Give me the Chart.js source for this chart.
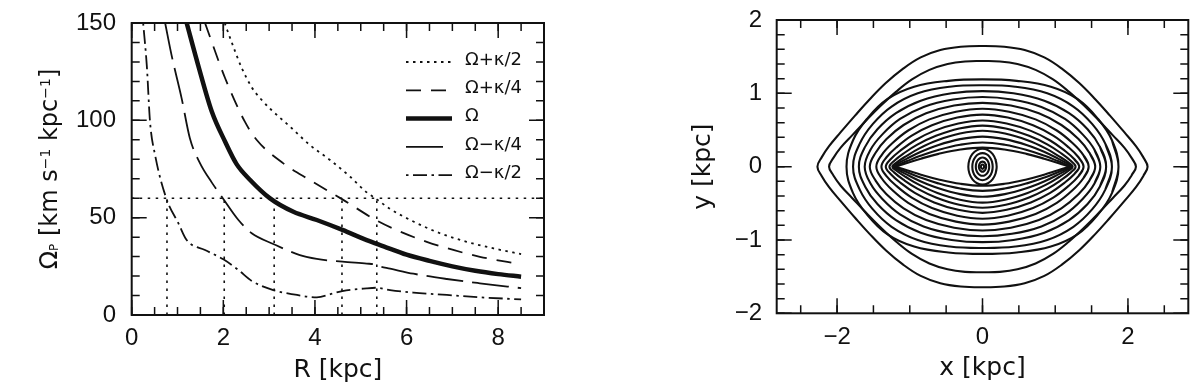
<!DOCTYPE html>
<html>
<head>
<meta charset="utf-8">
<script src="https://cdn.jsdelivr.net/npm/chart.js@4.4.1/dist/chart.umd.min.js"></script>
<style>
  html, body { margin: 0; padding: 0; background: #fff; }
  #wrap { position: relative; width: 1200px; height: 390px; }
  canvas { position: absolute; top: 0; }
  #freq { left: 0; }
  #orbits { left: 600px; }
</style>
</head>
<body>
<div id="wrap">
  <canvas id="freq" width="600" height="390"></canvas>
  <canvas id="orbits" width="600" height="390"></canvas>
</div>
<script>
// --- left panel: frequency curves, R in kpc, values in km s^-1 kpc^-1
const rPlusHalf = [2.03, 2.2, 2.4, 2.62, 2.8, 3.02, 3.46, 3.89, 4.33, 4.77, 5.13, 5.35, 5.64, 6.15, 6.73, 7.31, 7.9, 8.5];
const plusHalf  = [150, 139, 127, 117, 111.5, 106, 96.7, 87.3, 79.6, 71, 63, 59.4, 54.5, 48, 42, 37.6, 34.2, 31.3];

const rPlusQuarter = [1.6, 2.04, 2.47, 2.73, 3.31, 3.89, 4.6, 5.35, 5.86, 6.44, 7.02, 7.6, 8.5];
const plusQuarter  = [150, 121.6, 99.3, 89.9, 77.9, 69.3, 59.4, 48.5, 42.8, 37.6, 33.4, 29.9, 26];

const rOmega = [1.2, 1.45, 1.75, 2.04, 2.29, 2.58, 3.02, 3.53, 4.04, 4.6, 5.13, 5.5, 6.0, 6.5, 7.0, 7.5, 8.0, 8.5];
const omega  = [150, 128.4, 104.4, 89, 77.5, 69.5, 59.9, 53, 48.8, 43.7, 38.5, 35.3, 31, 27.8, 25, 22.7, 21, 19.7];

const rMinusQuarter = [0.73, 0.87, 1.09, 1.27, 1.49, 1.75, 2.0, 2.33, 2.62, 3.09, 3.67, 4.04, 4.6, 5.13, 5.3, 5.4, 5.64, 6.15, 6.88, 7.6, 8.5];
const minusQuarter  = [150, 133.5, 111.3, 90.8, 78, 68, 59.6, 48.8, 42, 36.5, 30.8, 28.8, 27.4, 26.4, 26.0, 25.0, 23.8, 21.2, 18.5, 16.3, 13.8];

const rMinusHalf = [0.25, 0.33, 0.4, 0.51, 0.76, 1.02, 1.2, 1.6, 2.0, 2.33, 2.62, 3.09, 3.53, 4.04, 4.4, 4.6, 5.13, 5.35, 5.64, 6.15, 6.88, 7.6, 8.5];
const minusHalf  = [150, 128, 99.3, 82.2, 59.6, 47.1, 38.5, 33.4, 28.6, 23.1, 17.5, 12.8, 10.6, 9.1, 11.1, 12.3, 13.7, 14, 12.8, 11.5, 10.3, 9.1, 8.0];

const patternSpeed = 60;
const crossR = [0.77, 2.02, 3.11, 4.59, 5.35];

const rTicks = [0, 2, 4, 6, 8];
const omegaTicks = [0, 50, 100, 150];

// --- right panel: orbits, upper-right quarter of each (x, y in kpc), from (xmax,0) to (0,ymax)
const outerOrbits = [
  [[2.27, 0], [2.21, 0.13], [2.11, 0.28], [1.95, 0.47], [1.75, 0.70], [1.55, 0.92], [1.33, 1.14], [1.10, 1.33], [0.85, 1.49], [0.58, 1.59], [0.3, 1.635], [0, 1.645]],
  [[2.11, 0], [2.05, 0.12], [1.95, 0.26], [1.79, 0.43], [1.60, 0.63], [1.40, 0.83], [1.19, 1.02], [0.97, 1.19], [0.73, 1.32], [0.48, 1.40], [0.24, 1.435], [0, 1.44]]
];
const eyeOrbits = [
  [[1.87, 0], [1.78, 0.36], [1.59, 0.65], [1.31, 0.92], [0.94, 1.09], [0.47, 1.17], [0, 1.19]],
  [[1.78, 0], [1.69, 0.31], [1.51, 0.58], [1.25, 0.82], [0.89, 1.00], [0.45, 1.09], [0, 1.11]],
  [[1.70, 0], [1.615, 0.27], [1.445, 0.51], [1.19, 0.73], [0.85, 0.90], [0.425, 1.00], [0, 1.03]],
  [[1.62, 0], [1.54, 0.23], [1.377, 0.44], [1.134, 0.65], [0.81, 0.815], [0.405, 0.916], [0, 0.95]],
  [[1.55, 0], [1.47, 0.19], [1.32, 0.377], [1.085, 0.568], [0.775, 0.728], [0.39, 0.833], [0, 0.87]],
  [[1.46, 0], [1.387, 0.158], [1.241, 0.319], [1.022, 0.493], [0.73, 0.645], [0.365, 0.75], [0, 0.79]],
  [[1.39, 0], [1.32, 0.128], [1.18, 0.266], [0.973, 0.422], [0.695, 0.564], [0.3475, 0.669], [0, 0.71]],
  [[1.33, 0], [1.264, 0.10], [1.13, 0.218], [0.931, 0.357], [0.665, 0.488], [0.3325, 0.589], [0, 0.63]],
  [[1.28, 0], [1.216, 0.078], [1.088, 0.178], [0.896, 0.30], [0.64, 0.42], [0.32, 0.52], [0, 0.56]],
  [[1.24, 0], [1.178, 0.059], [1.054, 0.141], [0.868, 0.249], [0.62, 0.359], [0.31, 0.451], [0, 0.49]],
  [[1.23, 0], [1.1685, 0.041], [1.0455, 0.106], [0.861, 0.196], [0.615, 0.292], [0.3075, 0.375], [0, 0.41]],
  [[1.22, 0], [1.159, 0.026], [1.037, 0.076], [0.854, 0.148], [0.61, 0.228], [0.305, 0.299], [0, 0.33]],
  [[1.21, 0], [1.1495, 0.016], [1.0285, 0.052], [0.847, 0.109], [0.605, 0.174], [0.3025, 0.234], [0, 0.26]]
];
const coreOrbits = [
  [[0.195, 0], [0.18, 0.094], [0.138, 0.173], [0.075, 0.226], [0, 0.245]],
  [[0.14, 0], [0.13, 0.071], [0.099, 0.131], [0.054, 0.171], [0, 0.185]],
  [[0.092, 0], [0.085, 0.048], [0.065, 0.088], [0.035, 0.115], [0, 0.125]],
  [[0.05, 0], [0.046, 0.026], [0.035, 0.048], [0.019, 0.063], [0, 0.068]],
  [[0.022, 0], [0.016, 0.021], [0, 0.03]]
];

const xTicks = [-2, 0, 2];
const yTicks = [-2, -1, 0, 1, 2];

// ---------------------------------------------------------------
const INK = '#111';
const tickFont = { family: "'Liberation Sans', Arial, sans-serif", size: 24 };
const titleFont = { family: "'DejaVu Sans', sans-serif", size: 25 };

const toPoints = (xs, ys) => xs.map((x, i) => ({ x: x, y: ys[i] }));

// whole closed orbit from its quarter, mirrored in both axes
function loopPoints(q) {
  const pts = [];
  q.forEach(([x, y]) => pts.push({ x: x, y: y }));
  q.slice(0, -1).reverse().forEach(([x, y]) => pts.push({ x: -x, y: y }));
  q.slice(1).forEach(([x, y]) => pts.push({ x: -x, y: -y }));
  q.slice(0, -1).reverse().forEach(([x, y]) => pts.push({ x: x, y: -y }));
  const n = pts.length;
  return [pts[n - 2], ...pts, pts[1]];
}

// inward tick marks on all four sides plus the frame
const frameTicks = {
  id: 'frameTicks',
  afterDatasetsDraw(chart, args, opts) {
    const { ctx, chartArea: a, scales: { x, y } } = chart;
    const minors = (scale, step) => {
      const out = [];
      const n0 = Math.ceil(scale.min / step - 1e-6), n1 = Math.floor(scale.max / step + 1e-6);
      for (let n = n0; n <= n1; n++) out.push(n * step);
      return out;
    };
    const mark = (scale, values, len) => {
      values.forEach(v => {
        const p = scale.getPixelForValue(v);
        ctx.beginPath();
        if (scale.isHorizontal()) {
          ctx.moveTo(p, a.bottom); ctx.lineTo(p, a.bottom - len);
          ctx.moveTo(p, a.top); ctx.lineTo(p, a.top + len);
        } else {
          ctx.moveTo(a.left, p); ctx.lineTo(a.left + len, p);
          ctx.moveTo(a.right, p); ctx.lineTo(a.right - len, p);
        }
        ctx.stroke();
      });
    };
    ctx.save();
    ctx.strokeStyle = INK;
    ctx.lineWidth = 1.5;
    mark(x, minors(x, opts.xMinor), 8);
    mark(x, opts.xMajor, 15);
    mark(y, minors(y, opts.yMinor), 8);
    mark(y, opts.yMajor, 15);
    ctx.lineWidth = 2;
    ctx.strokeRect(a.left, a.top, a.right - a.left, a.bottom - a.top);
    ctx.restore();
  }
};

// legend inside the plot, using each dataset's own line style
const curveKey = {
  id: 'curveKey',
  afterDraw(chart) {
    const { ctx } = chart;
    ctx.save();
    ctx.fillStyle = INK;
    ctx.strokeStyle = INK;
    ctx.font = "18px 'DejaVu Sans', sans-serif";
    ctx.textBaseline = 'middle';
    let row = 0;
    chart.data.datasets.forEach(ds => {
      if (!ds.label) return;
      const yy = 62 + row * 28.3;
      ctx.setLineDash(ds.borderDash || []);
      ctx.lineWidth = ds.borderWidth;
      ctx.beginPath();
      ctx.moveTo(406, yy);
      ctx.lineTo(452, yy);
      ctx.stroke();
      ctx.setLineDash([]);
      ctx.fillText(ds.label, 465, yy - 2);
      row++;
    });
    ctx.restore();
  }
};

// y title with subscript and superscripts
const omegaTitle = {
  id: 'omegaTitle',
  afterDraw(chart) {
    const { ctx, chartArea: a } = chart;
    const big = "24px 'DejaVu Sans', sans-serif";
    const sub = "12px 'DejaVu Sans', sans-serif";
    const sup = "14px 'DejaVu Sans', sans-serif";
    const parts = [['Ω', big, 0], ['P', sub, 1], [' [km s', big, 0], ['−1', sup, -7.5],
                   [' kpc', big, 0], ['−1', sup, -7.5], [']', big, 0]];
    ctx.save();
    ctx.translate(48, (a.top + a.bottom) / 2);
    ctx.rotate(-Math.PI / 2);
    ctx.fillStyle = INK;
    ctx.textBaseline = 'alphabetic';
    let w = 0;
    parts.forEach(p => { ctx.font = p[1]; w += ctx.measureText(p[0]).width; });
    let x = -w / 2;
    parts.forEach(([t, f, dy]) => {
      ctx.font = f;
      ctx.fillText(t, x, 9 + dy);
      x += ctx.measureText(t).width;
    });
    ctx.restore();
  }
};

const minusSign = v => String(v).replace('-', '−');

function axis(min, max, labels, size, pad, horizontal) {
  return {
    type: 'linear', min: min, max: max,
    grid: { display: false, drawTicks: false },
    border: { display: false },
    afterBuildTicks: s => { s.ticks = labels.map(v => ({ value: v })); },
    afterFit: s => {
      if (horizontal) s.height = size; else s.width = size;
      // layout padding alone places the plot box
      s.paddingTop = s.paddingBottom = s.paddingLeft = s.paddingRight = 0;
    },
    ticks: { font: tickFont, color: INK, padding: pad, maxRotation: 0, autoSkip: false, callback: minusSign }
  };
}

// ---- left chart
const line = (xs, ys, label, width, dash) => ({
  label: label, data: toPoints(xs, ys), showLine: true, pointRadius: 0,
  borderColor: INK, borderWidth: width, borderDash: dash, cubicInterpolationMode: 'monotone'
});

const refLines = [{ label: '', data: [{ x: 0, y: patternSpeed }, { x: 9, y: patternSpeed }] }]
  .concat(crossR.map(r => ({ label: '', data: [{ x: r, y: 0 }, { x: r, y: patternSpeed }] })))
  .map(d => Object.assign(d, { showLine: true, pointRadius: 0, borderColor: INK, borderWidth: 1.6, borderDash: [2.5, 5.5] }));

const xFreq = axis(0, 9, rTicks, 75, 8.6, true);
xFreq.title = { display: true, text: 'R [kpc]', font: titleFont, color: INK, padding: { top: 0, bottom: 5 } };
const yFreq = axis(0, 150, omegaTicks, 131.7, 15.7, false);

new Chart(document.getElementById('freq'), {
  type: 'scatter',
  data: {
    datasets: [
      line(rPlusHalf, plusHalf, 'Ω+κ/2', 1.8, [2.5, 4.5]),
      line(rPlusQuarter, plusQuarter, 'Ω+κ/4', 1.8, [15, 10]),
      line(rOmega, omega, 'Ω', 4.5, []),
      line(rMinusQuarter, minusQuarter, 'Ω−κ/4', 1.8, [37, 9]),
      line(rMinusHalf, minusHalf, 'Ω−κ/2', 1.8, [2.5, 4.5, 14, 4.5])
    ].concat(refLines)
  },
  options: {
    responsive: false, animation: false, devicePixelRatio: 1,
    layout: { padding: { left: 0, right: 56, top: 23, bottom: 0 } },
    plugins: {
      legend: { display: false }, tooltip: { enabled: false },
      frameTicks: { xMajor: rTicks, xMinor: 0.5, yMajor: omegaTicks, yMinor: 10 }
    },
    scales: { x: xFreq, y: yFreq }
  },
  plugins: [frameTicks, curveKey, omegaTitle]
});

// ---- right chart
const orbit = q => ({
  data: loopPoints(q), showLine: true, pointRadius: 0,
  borderColor: INK, borderWidth: 2.1, tension: 0.4
});

const xOrb = axis(-2.83, 2.83, xTicks, 76.7, 9.3, true);
xOrb.title = { display: true, text: 'x [kpc]', font: titleFont, color: INK, padding: { top: 0, bottom: 7 } };
const yOrb = axis(-2, 2, yTicks, 176.7, 14.7, false);
yOrb.title = { display: true, text: 'y [kpc]', font: titleFont, color: INK, padding: { top: 88, bottom: 0 } };

new Chart(document.getElementById('orbits'), {
  type: 'scatter',
  data: { datasets: outerOrbits.concat(eyeOrbits, coreOrbits).map(orbit) },
  options: {
    responsive: false, animation: false, devicePixelRatio: 1,
    layout: { padding: { left: 0, right: 11.7, top: 20, bottom: 0 } },
    plugins: {
      legend: { display: false }, tooltip: { enabled: false },
      frameTicks: { xMajor: xTicks, xMinor: 0.5, yMajor: yTicks, yMinor: 0.2 }
    },
    scales: { x: xOrb, y: yOrb }
  },
  plugins: [frameTicks]
});
</script>
</body>
</html>
